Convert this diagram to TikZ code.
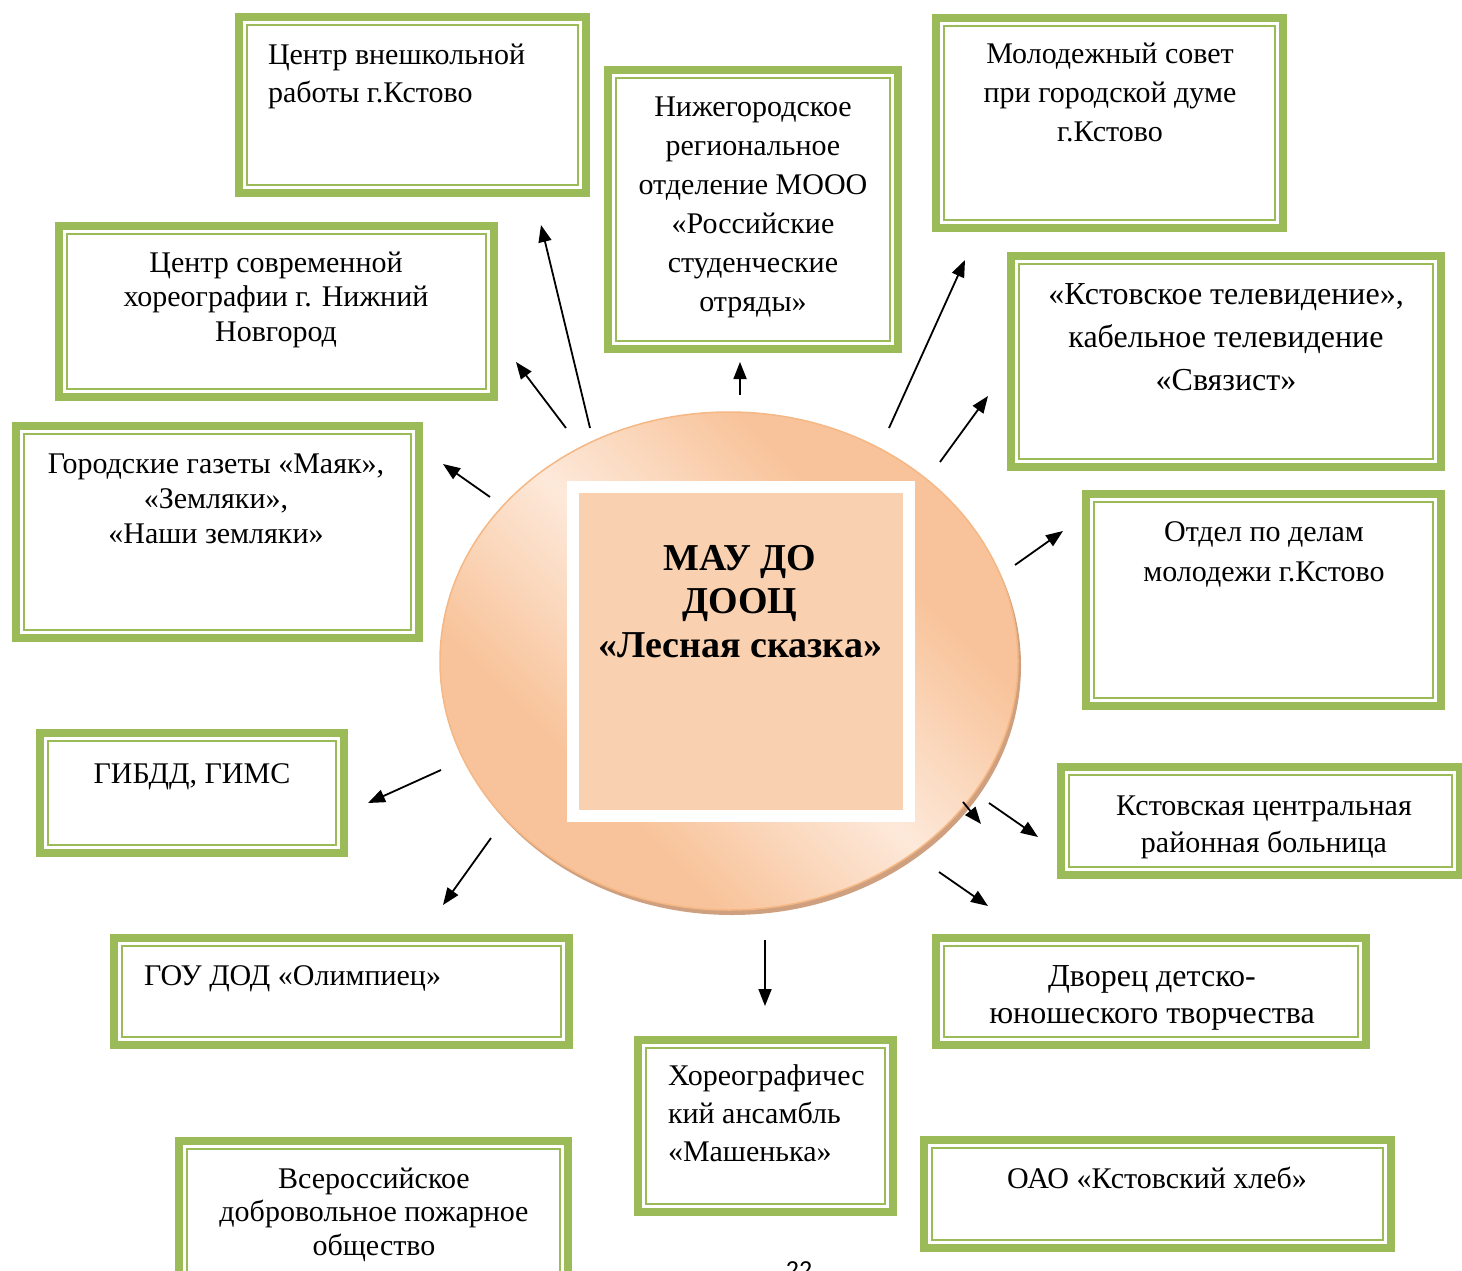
\documentclass[tikz,border=0pt]{standalone}
\usepackage{fontspec}
\setmainfont{Liberation Serif}
\newfontfamily\pgnumfont{Carlito}
\usetikzlibrary{arrows.meta,shapes.geometric}
\definecolor{boxgreen}{HTML}{9BBB59}
\definecolor{pdark}{HTML}{F8C39A}
\definecolor{plight}{HTML}{FDE9DA}
\definecolor{pinner}{HTML}{FAD1B0}
\definecolor{pedge}{HTML}{F5B784}
\definecolor{pshadow}{HTML}{CFA07F}
\pgfdeclarehorizontalshading{peachshade}{100bp}{color(0bp)=(pdark); color(33bp)=(pdark); color(50bp)=(plight); color(67bp)=(pdark); color(100bp)=(pdark)}
\newcommand\sr{\rule{0pt}{30pt}}
\newcommand\srb{\rule{0pt}{38pt}}
\newcommand\mybox[5]{%
  \node[gframe, minimum width={#4-#2-8}, minimum height={#5-#3-8}] (#1) at ({(#2+#4)/2},{(#3+#5)/2}) {};
  \draw[gline] ([shift={(8,8)}]#1.north west) rectangle ([shift={(-8,-8)}]#1.south east);
}
\tikzset{
  gframe/.style={rectangle, draw=boxgreen, line width=8pt, fill=white, inner sep=0pt, outer sep=0pt},
  gline/.style={draw=boxgreen, line width=2.2pt},
  txtst/.style={inner sep=0pt, outer sep=0pt, text=black, font=\fontsize{30}{#1}\selectfont},
  bigtxt/.style={inner sep=0pt, outer sep=0pt, text=black, font=\fontsize{32}{#1}\selectfont},
  arr/.style={black, line width=1.8pt, -{Triangle[length=17pt,width=13pt]}},
}
\begin{document}
\begin{tikzpicture}[x=1pt,y=-1pt]
\useasboundingbox (0,0) rectangle (1462,1271);
% boxes
\mybox{b1}{235}{13}{590}{197}
\mybox{b2}{604}{66}{902}{353}
\mybox{b3}{932}{14}{1287}{232}
\mybox{b4}{55}{222}{498}{401}
\mybox{b5}{1007}{252}{1445}{471}
\mybox{b6}{12}{422}{423}{642}
\mybox{b7}{1082}{490}{1445}{710}
\mybox{b8}{36}{729}{348}{857}
\mybox{b9}{1057}{763}{1464}{879}
\mybox{b10}{110}{934}{573}{1049}
\mybox{b11}{932}{934}{1370}{1049}
\mybox{b12}{634}{1036}{897}{1216}
\mybox{b13}{175}{1137}{572}{1295}
\mybox{b14}{920}{1136}{1395}{1252}
% texts
\node[txtst=39, align=left, anchor=north west] (t1) at (268,34) {\sr Центр внешкольной\\работы г.Кстово};
\node[txtst=39, align=center, anchor=north] (t2) at (753,86) {\sr Нижегородское\\региональное\\отделение МООО\\«Российские\\студенческие\\отряды»};
\node[txtst=39, align=center, anchor=north] (t3) at (1110,34) {\sr Молодежный совет\\при городской думе\\г.Кстово};
\node[txtst=34.5, align=center, anchor=north] (t4) at (276,242) {\sr Центр современной\\хореографии г. Нижний\\Новгород};
\node[bigtxt=43, align=center, anchor=north] (t5) at (1226,274) {\sr «Кстовское телевидение»,\\кабельное телевидение\\«Связист»};
\node[txtst=35, align=center, anchor=north] (t6) at (216,443) {\sr Городские газеты «Маяк»,\\«Земляки»,\\«Наши земляки»};
\node[txtst=40, align=center, anchor=north] (t7) at (1264,511) {\sr Отдел по делам\\молодежи г.Кстово};
\node[txtst=36, align=center, anchor=north] (t8) at (192,753) {\sr ГИБДД, ГИМС};
\node[txtst=37.5, align=center, anchor=north] (t9) at (1264,785) {\sr Кстовская центральная\\районная больница};
\node[txtst=36, align=left, anchor=north west] (t10) at (144,955) {\sr ГОУ ДОД «Олимпиец»};
\node[bigtxt=37, align=center, anchor=north] (t11) at (1152,956) {\sr Дворец детско-\\юношеского творчества};
\node[txtst=38, align=left, anchor=north west] (t12) at (668,1055) {\sr Хореографичес\\кий ансамбль\\«Машенька»};
\node[txtst=33.5, align=center, anchor=north] (t13) at (374,1158) {\sr Всероссийское\\добровольное пожарное\\общество};
\node[txtst=36, align=center, anchor=north] (t14) at (1157,1158) {\sr ОАО «Кстовский хлеб»};
% central ellipse
\node[ellipse, fill=pshadow, minimum width=578pt, minimum height=498pt, inner sep=0pt, outer sep=0pt] (csh) at (732,666) {};
\node[ellipse, shading=peachshade, shading angle=45, draw=pedge, line width=1.5pt, minimum width=578pt, minimum height=498pt, inner sep=0pt, outer sep=0pt] (c) at (729,661) {};
\node[rectangle, fill=pinner, draw=white, line width=12pt, minimum width=336pt, minimum height=329pt, inner sep=0pt, outer sep=0pt] (core) at (740.5,651.5) {};
\node[inner sep=0pt, outer sep=0pt, align=center, anchor=north, font=\bfseries\fontsize{38}{43.5}\selectfont] (ct) at (740,532) {\srb МАУ ДО\\ДООЦ\\«Лесная сказка»};
% arrows
\coordinate (a1s) at (590,428); \coordinate (a1e) at (541,225);
\coordinate (a2s) at (566,428); \coordinate (a2e) at (516,362);
\coordinate (a3s) at (740,395); \coordinate (a3e) at (740,362);
\coordinate (a4s) at (889,428); \coordinate (a4e) at (965,260);
\coordinate (a5s) at (940,462); \coordinate (a5e) at (988,396);
\coordinate (a6s) at (1015,565); \coordinate (a6e) at (1063,531);
\coordinate (a7s) at (490,497); \coordinate (a7e) at (443,464);
\coordinate (a8s) at (441,770); \coordinate (a8e) at (368,803);
\coordinate (a9s) at (491,838); \coordinate (a9e) at (443,905);
\coordinate (a10s) at (765,940); \coordinate (a10e) at (765,1006);
\coordinate (a11s) at (963,802); \coordinate (a11e) at (981,824);
\coordinate (a12s) at (989,803); \coordinate (a12e) at (1038,837);
\coordinate (a13s) at (939,872); \coordinate (a13e) at (988,906);
\foreach \i in {1,...,13} {\draw[arr] (a\i s) -- (a\i e);}
% page number
\node[inner sep=0pt, anchor=base, font=\pgnumfont\fontsize{26}{26}\selectfont] (pg) at (799,1278) {22};
\end{tikzpicture}
\end{document}
